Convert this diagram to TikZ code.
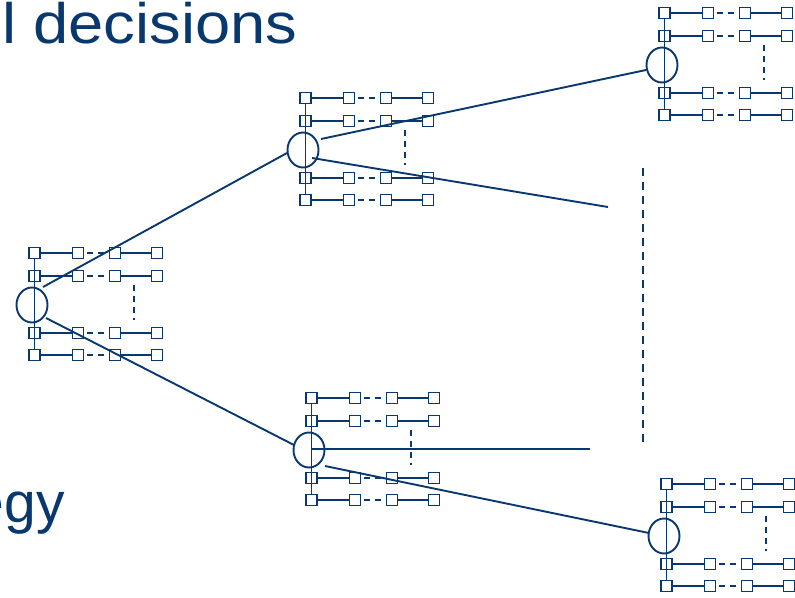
\documentclass[tikz,border=0pt]{standalone}
\usepackage{fontspec}
\setmainfont{Liberation Sans}
\usetikzlibrary{shapes.geometric}
\definecolor{navy}{RGB}{8,56,110}
\tikzset{
  tree/.style={draw=navy, line width=1.9pt},
  sq/.style={draw=navy, line width=1.8pt, minimum size=11pt, inner sep=0pt},
  chance/.style={ellipse, draw=navy, line width=1.9pt, minimum width=31pt, minimum height=35pt, inner sep=0pt},
  rowdash/.style={dash pattern=on 6pt off 5pt, dash phase=8pt},
  coldash/.style={dash pattern=on 6pt off 5pt},
  bigdash/.style={dash pattern=on 8pt off 6pt},
  title/.style={text=navy, font=\fontsize{57}{60}\selectfont, inner sep=0pt},
  strategy/.pic={
    \node[chance] (-c) at (0,0) {};
    \foreach \i/\r in {1/-52,2/-29,3/28,4/50}{
      \foreach \j/\x in {1/2.5,2/46,3/83,4/125}{
        \node[sq] (-s\i\j) at (\x,\r) {};
      }
      \draw[tree] (-s\i1) -- (-s\i2);
      \draw[tree,rowdash] (-s\i2) -- (-s\i3);
      \draw[tree] (-s\i3) -- (-s\i4);
    }
    \draw[tree] (-s11.south) -- (-s41.north);
    \coordinate (-vt) at (102,-20);
    \coordinate (-vb) at (102,15);
    \draw[tree,coldash] (-vt) -- (-vb);
  }
}
\begin{document}
\begin{tikzpicture}[x=1pt,y=-1pt]
\useasboundingbox (0,0) rectangle (795,597);

% decision stages
\pic (b1) at (32,305) {strategy};
\pic (b2) at (303,150) {strategy};
\pic (b3) at (662,65) {strategy};
\pic (b4) at (309,450) {strategy};
\pic (b5) at (664,536) {strategy};

% branches between stages
\draw[tree] ([shift={(11,-18)}]b1-c.center) -- ([shift={(-16,3)}]b2-c.center);
\draw[tree] ([shift={(14,13)}]b1-c.center) -- ([shift={(-15,-5)}]b4-c.center);
\draw[tree] ([shift={(18,-11)}]b2-c.center) -- ([shift={(-16,5)}]b3-c.center);
\coordinate (e2) at (608,207);
\draw[tree] ([shift={(9,8)}]b2-c.center) -- (e2);
\coordinate (e4) at (590,449);
\draw[tree] ([shift={(2,-1)}]b4-c.center) -- (e4);
\draw[tree] ([shift={(16,16)}]b4-c.center) -- ([shift={(-15,-3)}]b5-c.center);

% omitted stages
\coordinate (dt) at (643,168);
\coordinate (db) at (643,442);
\draw[tree,bigdash] (dt) -- (db);

% headings
\node[title, anchor=base west] (t1) at (1.8,43) {\scalebox{1.11}[1]{l decisions}};
\node[title, anchor=base east] (t2) at (65,522) {egy};
\end{tikzpicture}
\end{document}
